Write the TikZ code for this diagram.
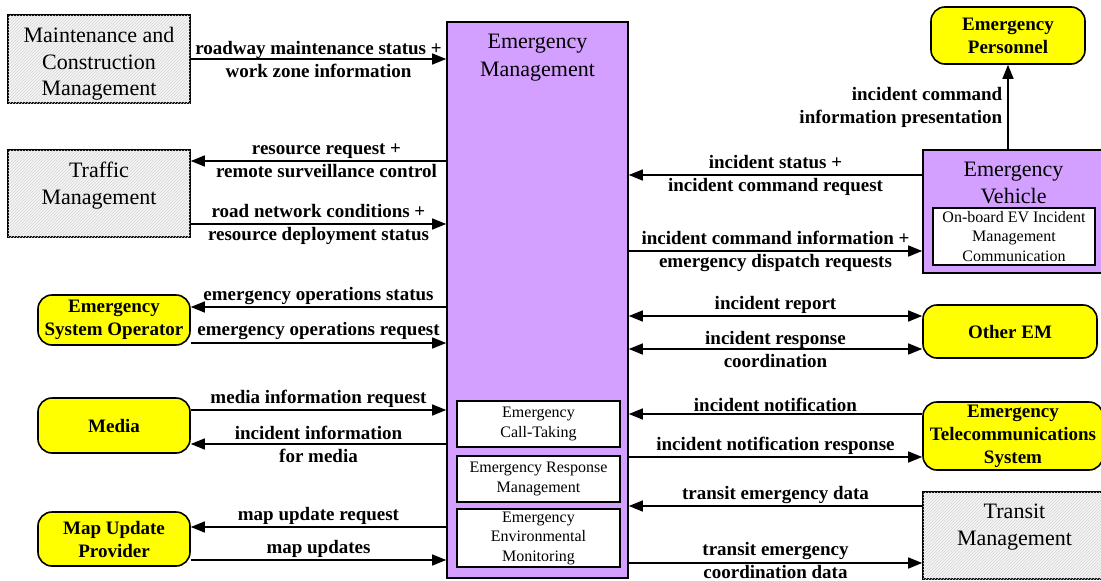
\documentclass[tikz,border=0pt]{standalone}
\usepackage{fontspec}
\setmainfont{Liberation Serif}
\usetikzlibrary{arrows.meta,patterns}

\definecolor{empurple}{RGB}{212,160,255}
\definecolor{termyellow}{RGB}{255,255,0}

\begin{document}
\begin{tikzpicture}[x=1pt,y=-1pt,
  boxline/.style={draw=black, line width=1.6pt},
  gbox/.style={boxline, fill=gray!8, postaction={pattern=north east lines, pattern color=gray!32}, inner sep=0pt},
  pbox/.style={boxline, fill=empurple, inner sep=0pt},
  ybox/.style={boxline, fill=termyellow, rounded corners=14pt, align=center, inner sep=0pt,
    font=\fontsize{19}{23}\bfseries\selectfont},
  wbox/.style={draw=black, line width=1.3pt, fill=white, align=center, inner sep=0pt,
    font=\fontsize{16}{19.5}\selectfont},
  ttl/.style={anchor=north, yshift=-13pt, inner sep=0pt, align=center,
    font=\fontsize{22}{26.5}\selectfont},
  lab/.style={inner sep=0pt, align=center, font=\fontsize{19}{23}\bfseries\selectfont},
  arr/.style={line width=1.4pt, -{Triangle[length=14pt,width=11pt]}},
  biarr/.style={line width=1.4pt, {Triangle[length=14pt,width=11pt]}-{Triangle[length=14pt,width=11pt]}}
]
\useasboundingbox (0,0) rectangle (1101,581);
\fill[white] (0,0) rectangle (1101,581);
\clip (0,0) rectangle (1101,581);

% central subsystem with its equipment packages
\node[pbox, minimum width=181pt, minimum height=556pt,
  label={[ttl, font=\fontsize{22}{27.5}\selectfont]north:{Emergency\\Management}}] (em) at (537.5,300) {};
\node[wbox, minimum width=163pt, minimum height=46pt] (ect) at (538.5,424) {Emergency\\Call-Taking};
\node[wbox, minimum width=163pt, minimum height=46pt] (erm) at (538.5,479) {Emergency Response\\Management};
\node[wbox, minimum width=163pt, minimum height=58pt] (eem) at (538.5,538) {Emergency\\Environmental\\Monitoring};

% left-hand subsystems and terminators
\node[gbox, minimum width=182pt, minimum height=88pt,
  label={[ttl]north:{Maintenance and\\Construction\\Management}}] (mcm) at (99,59) {};
\node[gbox, minimum width=182pt, minimum height=87pt,
  label={[ttl]north:{Traffic\\Management}}] (tm) at (99,193.5) {};
\node[ybox, minimum width=152pt, minimum height=50pt] (eso) at (114,320) {Emergency\\System Operator};
\node[ybox, minimum width=152pt, minimum height=55pt] (media) at (114,425.5) {Media};
\node[ybox, minimum width=152pt, minimum height=54pt] (map) at (114,539) {Map Update\\Provider};

% right-hand subsystems and terminators
\node[ybox, minimum width=154pt, minimum height=57pt] (pers) at (1008,35.5) {Emergency\\Personnel};
\node[pbox, minimum width=181pt, minimum height=123pt,
  label={[ttl]north:{Emergency\\Vehicle}}] (ev) at (1013.5,211.5) {};
\node[wbox, minimum width=162pt, minimum height=57pt] (evp) at (1014,236.5) {On-board EV Incident\\Management\\Communication};
\node[ybox, minimum width=174pt, minimum height=53pt] (oem) at (1010,331.5) {Other EM};
\node[ybox, minimum width=180pt, minimum height=68pt] (ets) at (1013,436) {Emergency\\Telecommunications\\System};
\node[gbox, minimum width=183pt, minimum height=87pt,
  label={[ttl]north:{Transit\\Management}}] (trm) at (1014.5,535.5) {};

% flows on the left
\draw[arr] (mcm.east |- 0,59) -- (em.west |- 0,59)
  node[lab, midway] {roadway maintenance status +\\work zone information};
\draw[arr] (em.west |- 0,161) -- (tm.east |- 0,161)
  node[lab, midway, xshift=8pt] {resource request +\\remote surveillance control};
\draw[arr] (tm.east |- 0,224) -- (em.west |- 0,224)
  node[lab, midway] {road network conditions +\\resource deployment status};
\draw[arr] (em.west |- 0,307) -- (eso.east |- 0,307)
  node[lab, midway, above=1.5pt] {emergency operations status};
\draw[arr] (eso.east |- 0,343) -- (em.west |- 0,343)
  node[lab, midway, above=2.5pt] {emergency operations request};
\draw[arr] (media.east |- 0,410) -- (em.west |- 0,410)
  node[lab, midway, above=1.5pt] {media information request};
\draw[arr] (em.west |- 0,444) -- (media.east |- 0,444)
  node[lab, midway] {incident information\\for media};
\draw[arr] (em.west |- 0,527) -- (map.east |- 0,527)
  node[lab, midway, above=1.5pt] {map update request};
\draw[arr] (map.east |- 0,560) -- (em.west |- 0,560)
  node[lab, midway, above=1.5pt] {map updates};

% flows on the right
\draw[arr] (ev.west |- 0,175) -- (em.east |- 0,175)
  node[lab, midway] {incident status +\\incident command request};
\draw[arr] (em.east |- 0,251) -- (ev.west |- 0,251)
  node[lab, midway] {incident command information +\\emergency dispatch requests};
\draw[arr] (pers.south |- ev.north) -- (pers.south)
  node[lab, midway, left=5pt, align=right] {incident command\\information presentation};
\draw[biarr] (em.east |- 0,316) -- (oem.west |- 0,316)
  node[lab, midway, above=1.5pt] {incident report};
\draw[biarr] (em.east |- 0,349) -- (oem.west |- 0,349)
  node[lab, midway] {incident response\\coordination};
\draw[arr] (ets.west |- 0,414) -- (em.east |- 0,414)
  node[lab, midway, above=1.5pt] {incident notification};
\draw[arr] (em.east |- 0,457) -- (ets.west |- 0,457)
  node[lab, midway, above=1.5pt] {incident notification response};
\draw[arr] (trm.west |- 0,506) -- (em.east |- 0,506)
  node[lab, midway, above=1.5pt] {transit emergency data};
\draw[arr] (em.east |- 0,563) -- (trm.west |- 0,563)
  node[lab, midway, yshift=2.5pt] {transit emergency\\coordination data};
\end{tikzpicture}
\end{document}
